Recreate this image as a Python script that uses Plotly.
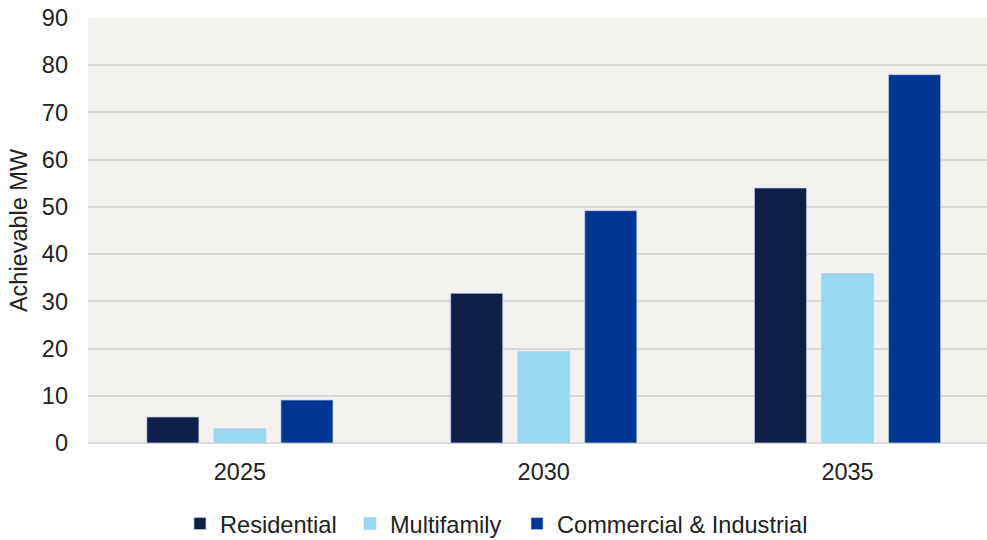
import plotly.graph_objects as go

# Achievable demand-response capacity by sector and year
years = ["2025", "2030", "2035"]
residential = [5.5, 31.7, 54.0]
multifamily = [3.0, 19.4, 35.9]
commercial_industrial = [9.1, 49.2, 78.0]
y_ticks = [0, 10, 20, 30, 40, 50, 60, 70, 80, 90]

# (name, values, colour, legend id, legend left edge in paper units)
series = [
    ("Residential", residential, "#0F1F48", "legend", 0.1023),
    ("Multifamily", multifamily, "#99D8F0", "legend2", 0.2914),
    ("Commercial & Industrial", commercial_industrial, "#003591", "legend3", 0.4772),
]

font_family = "Arial, Liberation Sans, sans-serif"

fig = go.Figure()
legend_layout = {}
for name, vals, color, legend_id, lx in series:
    fig.add_trace(go.Bar(
        name=name,
        x=years,
        y=vals,
        legend=legend_id,
        marker=dict(color=color, line=dict(color="rgba(190,205,230,0.7)", width=1)),
    ))
    legend_layout[legend_id] = dict(
        orientation="h",
        x=lx,
        xanchor="left",
        y=-0.19,
        yanchor="middle",
        font=dict(family=font_family, size=23.6, color="#222222"),
        bgcolor="rgba(0,0,0,0)",
    )

fig.update_layout(
    width=987,
    height=540,
    margin=dict(l=88, r=0, t=18, b=97, autoexpand=False),
    paper_bgcolor="white",
    plot_bgcolor="#F3F2EF",
    barmode="group",
    bargap=0.338,
    bargroupgap=0.224,
    font=dict(family=font_family, size=23.5, color="#222222"),
    showlegend=True,
    xaxis=dict(
        type="category",
        range=[-0.5, 2.459],
        showgrid=False,
        showline=False,
        ticks="",
        ticklabelstandoff=12,
        tickfont=dict(size=23.5),
    ),
    yaxis=dict(
        range=[0, 90],
        tickvals=y_ticks,
        showgrid=True,
        gridcolor="#D9D9D9",
        gridwidth=2,
        zeroline=True,
        zerolinecolor="#D9D9D9",
        zerolinewidth=2,
        showline=False,
        ticks="",
        ticklabelstandoff=19,
        tickfont=dict(size=23.5),
        title=dict(text="Achievable MW", font=dict(size=23.5), standoff=7),
    ),
    **legend_layout,
)

fig.write_html("out.html")
